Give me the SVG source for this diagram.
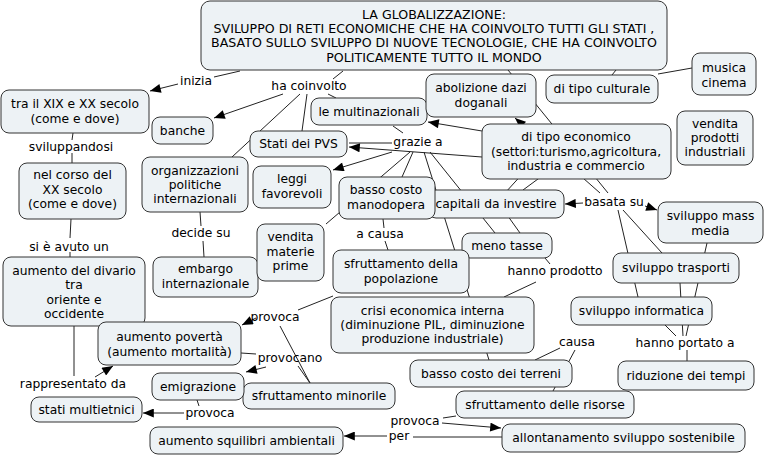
<svg xmlns="http://www.w3.org/2000/svg" width="764" height="457" viewBox="0 0 764 457">
<defs>
<marker id="ar" viewBox="0 0 12 10" refX="12" refY="5" markerWidth="12" markerHeight="9" markerUnits="userSpaceOnUse" orient="auto"><path d="M0,0 L12,5 L0,10 z" fill="#000"/></marker>
<style>
.n rect{fill:#edf2f5;stroke:#333;stroke-width:1}
text{font-family:"DejaVu Sans",Verdana,sans-serif;font-size:12.3px;fill:#000;text-anchor:middle}
#n-title text{font-size:12.6px}
.c line{stroke:#222;stroke-width:1}
.c line.a{marker-end:url(#ar)}
</style>
</defs>
<rect width="764" height="457" fill="#fff"/>
<g class="c">
<line x1="240" y1="71" x2="214" y2="77"/>
<line class="a" x1="178" y1="84" x2="150" y2="91"/>
<line x1="343" y1="71" x2="333" y2="79"/>
<line class="a" x1="283" y1="94" x2="214" y2="118"/>
<line x1="307" y1="94" x2="302" y2="131"/>
<line x1="300" y1="94" x2="232" y2="157"/>
<line x1="328" y1="94" x2="336" y2="98"/>
<line x1="616" y1="70" x2="612" y2="75"/>
<line x1="658" y1="74" x2="692" y2="68"/>
<line x1="508" y1="70" x2="608" y2="193"/>
<line class="a" x1="600" y1="193" x2="515" y2="118"/>
<line class="a" x1="583" y1="203" x2="565" y2="204"/>
<line class="a" x1="645" y1="206" x2="657" y2="210"/>
<line x1="618" y1="210" x2="638" y2="297"/>
<line x1="623" y1="210" x2="662" y2="253"/>
<line x1="707" y1="243" x2="686" y2="336"/>
<line x1="680" y1="283" x2="683" y2="336"/>
<line x1="665" y1="325" x2="676" y2="336"/>
<line x1="687" y1="350" x2="687" y2="361"/>
<line class="a" x1="482" y1="131" x2="428" y2="122"/>
<line class="a" x1="482" y1="157" x2="349" y2="147"/>
<line x1="392" y1="143" x2="349" y2="143"/>
<line x1="393" y1="126" x2="403" y2="133"/>
<line class="a" x1="392" y1="152" x2="333" y2="170"/>
<line x1="410" y1="152" x2="326" y2="224"/>
<line x1="413" y1="152" x2="402" y2="177"/>
<line x1="424" y1="152" x2="489" y2="360"/>
<line x1="430" y1="152" x2="495" y2="233"/>
<line x1="500" y1="205" x2="520" y2="233"/>
<line x1="576" y1="151" x2="523" y2="190"/>
<line x1="525" y1="171" x2="505" y2="193"/>
<line x1="383" y1="219" x2="384" y2="228"/>
<line x1="385" y1="241" x2="388" y2="250"/>
<line x1="73" y1="133" x2="72" y2="140"/>
<line x1="72" y1="153" x2="72" y2="163"/>
<line x1="71" y1="219" x2="70" y2="238"/>
<line x1="70" y1="252" x2="70" y2="257"/>
<line x1="200" y1="212" x2="201" y2="226"/>
<line x1="203" y1="241" x2="204" y2="257"/>
<line x1="74" y1="326" x2="74" y2="376"/>
<line class="a" x1="95" y1="377" x2="113" y2="366"/>
<line x1="333" y1="296" x2="298" y2="310"/>
<line class="a" x1="256" y1="318" x2="242" y2="325"/>
<line x1="310" y1="383" x2="280" y2="326"/>
<line x1="310" y1="383" x2="298" y2="366"/>
<line x1="241" y1="353" x2="256" y2="354"/>
<line class="a" x1="266" y1="367" x2="246" y2="372"/>
<line x1="197" y1="400" x2="199" y2="406"/>
<line class="a" x1="184" y1="413" x2="143" y2="413"/>
<line x1="545" y1="258" x2="550" y2="264"/>
<line x1="536" y1="282" x2="504" y2="297"/>
<line x1="535" y1="360" x2="560" y2="348"/>
<line x1="575" y1="350" x2="553" y2="391"/>
<line x1="456" y1="416" x2="443" y2="418"/>
<line class="a" x1="442" y1="423" x2="501" y2="428"/>
<line x1="502" y1="437" x2="413" y2="437"/>
<line class="a" x1="387" y1="436" x2="344" y2="436"/>
</g>
<g class="lp">
<text x="196" y="85">inizia</text>
<text x="309" y="90">ha coinvolto</text>
<text x="418" y="146">grazie a</text>
<text x="614" y="206">basata su</text>
<text x="71" y="151">sviluppandosi</text>
<text x="69" y="251">si è avuto un</text>
<text x="201" y="237">decide su</text>
<text x="380" y="238">a causa</text>
<text x="555" y="275">hanno prodotto</text>
<text x="275" y="321">provoca</text>
<text x="290" y="362">provocano</text>
<text x="73" y="388">rappresentato da</text>
<text x="210" y="417">provoca</text>
<text x="577" y="346">causa</text>
<text x="685" y="347">hanno portato a</text>
<text x="415" y="425">provoca</text>
<text x="399" y="440">per</text>
</g>
<g id="n-title" class="n"><rect x="201" y="1" width="466" height="69" rx="9"/><text x="434" y="19">LA GLOBALIZZAZIONE:<tspan x="434" dy="14.2">SVILUPPO DI RETI ECONOMICHE CHE HA COINVOLTO TUTTI GLI STATI ,</tspan><tspan x="434" dy="14.2">BASATO SULLO SVILUPPO DI NUOVE TECNOLOGIE, CHE HA COINVOLTO</tspan><tspan x="434" dy="14.2">POLITICAMENTE TUTTO IL MONDO</tspan></text></g>
<g id="n-tra" class="n"><rect x="1" y="90" width="148" height="43" rx="8"/><text x="75" y="108">tra il XIX e XX secolo<tspan x="75" dy="14.5">(come e dove)</tspan></text></g>
<g id="n-banche" class="n"><rect x="152" y="117" width="61" height="27" rx="8"/><text x="182.5" y="135">banche</text></g>
<g id="n-pvs" class="n"><rect x="250" y="131" width="97" height="26" rx="8"/><text x="298.5" y="148">Stati dei PVS</text></g>
<g id="n-multi" class="n"><rect x="311" y="98" width="116" height="27" rx="8"/><text x="369" y="116">le multinazionali</text></g>
<g id="n-abol" class="n"><rect x="426" y="74" width="110" height="43" rx="8"/><text x="481" y="92">abolizione dazi<tspan x="481" dy="14.5">doganali</tspan></text></g>
<g id="n-cult" class="n"><rect x="546" y="75" width="112" height="28" rx="8"/><text x="602" y="93">di tipo culturale</text></g>
<g id="n-musica" class="n"><rect x="692" y="53" width="64" height="42" rx="8"/><text x="724" y="72">musica<tspan x="724" dy="14.5">cinema</tspan></text></g>
<g id="n-vprod" class="n"><rect x="677" y="111" width="76" height="54" rx="8"/><text x="715" y="128">vendita<tspan x="715" dy="14">prodotti</tspan><tspan x="715" dy="14">industriali</tspan></text></g>
<g id="n-econ" class="n"><rect x="482" y="124" width="189" height="55" rx="8"/><text x="576" y="141">di tipo economico<tspan x="576" dy="14.5">(settori:turismo,agricoltura,</tspan><tspan x="576" dy="14.5">industria e commercio</tspan></text></g>
<g id="n-org" class="n"><rect x="142" y="157" width="106" height="55" rx="8"/><text x="195" y="175">organizzazioni<tspan x="195" dy="14">politiche</tspan><tspan x="195" dy="14">internazionali</tspan></text></g>
<g id="n-leggi" class="n"><rect x="253" y="166" width="78" height="42" rx="8"/><text x="292" y="183">leggi<tspan x="292" dy="14.5">favorevoli</tspan></text></g>
<g id="n-cap" class="n"><rect x="428" y="190" width="136" height="28" rx="8"/><text x="496" y="208">capitali da investire</text></g>
<g id="n-mano" class="n"><rect x="339" y="177" width="96" height="42" rx="8"/><text x="386" y="194">basso costo<tspan x="386" dy="14.5">manodopera</tspan></text></g>
<g id="n-corso" class="n"><rect x="19" y="163" width="107" height="56" rx="8"/><text x="72.5" y="179">nel corso del<tspan x="72.5" dy="14.5">XX secolo</tspan><tspan x="72.5" dy="14.5">(come e dove)</tspan></text></g>
<g id="n-embargo" class="n"><rect x="153" y="257" width="105" height="40" rx="8"/><text x="205.5" y="273">embargo<tspan x="205.5" dy="15">internazionale</tspan></text></g>
<g id="n-vmat" class="n"><rect x="257" y="224" width="67" height="57" rx="8"/><text x="290.5" y="241">vendita<tspan x="290.5" dy="14.5">materie</tspan><tspan x="290.5" dy="14.5">prime</tspan></text></g>
<g id="n-divario" class="n"><rect x="3" y="257" width="142" height="69" rx="8"/><text x="74" y="275">aumento del divario<tspan x="74" dy="14.3">tra</tspan><tspan x="74" dy="14.3">oriente e</tspan><tspan x="74" dy="14.3">occidente</tspan></text></g>
<g id="n-meno" class="n"><rect x="462" y="233" width="90" height="25" rx="8"/><text x="507" y="250">meno tasse</text></g>
<g id="n-pop" class="n"><rect x="333" y="250" width="136" height="43" rx="8"/><text x="401" y="268">sfruttamento della<tspan x="401" dy="14.5">popolazione</tspan></text></g>
<g id="n-mass" class="n"><rect x="658" y="202" width="105" height="41" rx="8"/><text x="710.5" y="220">sviluppo mass<tspan x="710.5" dy="14.5">media</tspan></text></g>
<g id="n-trasp" class="n"><rect x="613" y="253" width="126" height="30" rx="8"/><text x="676" y="272">sviluppo trasporti</text></g>
<g id="n-crisi" class="n"><rect x="331" y="297" width="203" height="56" rx="8"/><text x="432.5" y="315">crisi economica interna<tspan x="432.5" dy="14.2">(diminuzione PIL, diminuzione</tspan><tspan x="432.5" dy="14.2">produzione industriale)</tspan></text></g>
<g id="n-info" class="n"><rect x="571" y="297" width="141" height="28" rx="8"/><text x="641.5" y="315">sviluppo informatica</text></g>
<g id="n-poverta" class="n"><rect x="98" y="322" width="143" height="43" rx="8"/><text x="169.5" y="341">aumento povertà<tspan x="169.5" dy="14.5">(aumento mortalità)</tspan></text></g>
<g id="n-terreni" class="n"><rect x="410" y="360" width="162" height="27" rx="8"/><text x="491" y="378">basso costo dei terreni</text></g>
<g id="n-rid" class="n"><rect x="618" y="361" width="136" height="29" rx="8"/><text x="686" y="380">riduzione dei tempi</text></g>
<g id="n-minor" class="n"><rect x="243" y="383" width="152" height="26" rx="8"/><text x="319" y="400">sfruttamento minorile</text></g>
<g id="n-emig" class="n"><rect x="152" y="373" width="92" height="27" rx="8"/><text x="198" y="391">emigrazione</text></g>
<g id="n-risorse" class="n"><rect x="456" y="391" width="178" height="27" rx="8"/><text x="545" y="409">sfruttamento delle risorse</text></g>
<g id="n-multiet" class="n"><rect x="31" y="397" width="111" height="25" rx="8"/><text x="86.5" y="414">stati multietnici</text></g>
<g id="n-squil" class="n"><rect x="150" y="427" width="193" height="27" rx="8"/><text x="246.5" y="445">aumento squilibri ambientali</text></g>
<g id="n-allont" class="n"><rect x="502" y="424" width="243" height="28" rx="8"/><text x="623.5" y="442">allontanamento sviluppo sostenibile</text></g>
</svg>
